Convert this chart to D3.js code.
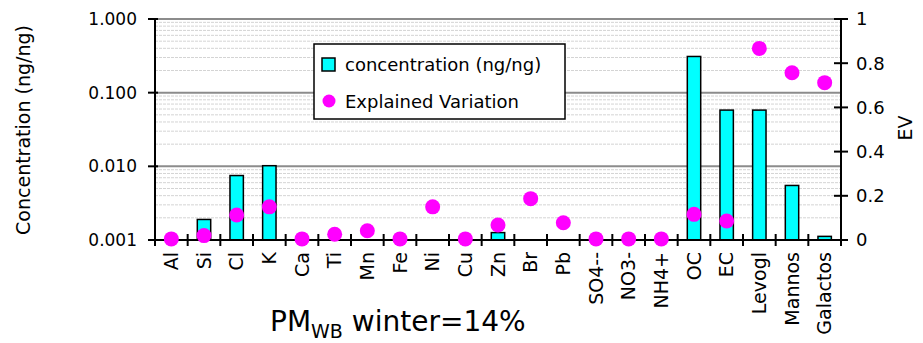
<!DOCTYPE html>
<html>
<head>
<meta charset="utf-8">
<script src="https://cdn.jsdelivr.net/npm/d3@7"></script>
<style>
  body { margin: 0; background: #fff; }
  text { font-family: "Comic Sans MS", "DejaVu Sans", sans-serif; fill: #000; }
</style>
</head>
<body>
<script>
// species along the x axis
const species = ["Al", "Si", "Cl", "K", "Ca", "Ti", "Mn", "Fe", "Ni", "Cu", "Zn",
    "Br", "Pb", "SO4--", "NO3-", "NH4+", "OC", "EC", "Levogl", "Mannos", "Galactos"];
// concentration (ng/ng), null = below axis floor
const concentration = [null, 0.0019, 0.0075, 0.0102, null, null, null, null, null, null, 0.00126,
    null, null, null, null, null, 0.31, 0.058, 0.058, 0.0055, 0.00112];
// explained variation
const ev = [0.005, 0.02, 0.113, 0.15, 0.005, 0.026, 0.042, 0.005, 0.15, 0.005, 0.068,
    0.187, 0.078, 0.005, 0.005, 0.005, 0.116, 0.086, 0.867, 0.757, 0.712];
const leftTicks = [0.001, 0.01, 0.1, 1];
const rightTicks = [0, 0.2, 0.4, 0.6, 0.8, 1];

const width = 923, height = 343;
const m = { left: 155, right: 841, top: 19, bottom: 240 };

const svg = d3.select("body").append("svg")
    .attr("width", width)
    .attr("height", height);

const x = d3.scaleBand().domain(species).range([m.left, m.right]);
const yL = d3.scaleLog().domain([0.001, 1]).range([m.bottom, m.top]);
const yR = d3.scaleLinear().domain([0, 1]).range([m.bottom, m.top]);

// minor gridlines
const minor = [];
[0.001, 0.01, 0.1].forEach(d => { for (let k = 2; k <= 9; k++) minor.push(d * k); });
svg.append("g").selectAll("line")
    .data(minor)
    .enter().append("line")
    .attr("x1", m.left).attr("x2", m.right)
    .attr("y1", d => yL(d)).attr("y2", d => yL(d))
    .style("stroke", "#d4d4d4")
    .style("stroke-width", 1)
    .style("stroke-dasharray", "3,1");

// major gridlines
svg.append("g").selectAll("line")
    .data([0.01, 0.1, 1])
    .enter().append("line")
    .attr("x1", m.left).attr("x2", m.right)
    .attr("y1", d => yL(d)).attr("y2", d => yL(d))
    .style("stroke", "#8c8c8c")
    .style("stroke-width", 2);

// bars
const bw = x.bandwidth() * 0.41;
svg.append("g").selectAll("rect")
    .data(species.map((s, i) => ({ s, v: concentration[i] })).filter(d => d.v != null))
    .enter().append("rect")
    .attr("x", d => x(d.s) + x.bandwidth() / 2 - bw / 2)
    .attr("width", bw)
    .attr("y", d => yL(d.v))
    .attr("height", d => m.bottom - yL(d.v))
    .style("fill", "#00ffff")
    .style("stroke", "#000")
    .style("stroke-width", 1.5);

// axes lines
const ax = svg.append("g").style("stroke", "#000").style("stroke-width", 2);
ax.append("line").attr("x1", m.left).attr("x2", m.left).attr("y1", m.top).attr("y2", m.bottom);
ax.append("line").attr("x1", m.right).attr("x2", m.right).attr("y1", m.top).attr("y2", m.bottom);
ax.append("line").attr("x1", m.left).attr("x2", m.right).attr("y1", m.bottom).attr("y2", m.bottom);

// left ticks
ax.selectAll(".lt").data(leftTicks).enter().append("line")
    .attr("x1", m.left - 7).attr("x2", m.left + 3)
    .attr("y1", d => yL(d)).attr("y2", d => yL(d));
svg.selectAll(".ltl").data(leftTicks).enter().append("text")
    .attr("x", 137).attr("y", d => yL(d)).attr("dy", "0.35em")
    .attr("text-anchor", "end")
    .style("font-size", "17px")
    .text(d => d3.format(".3f")(d));

// right ticks
ax.selectAll(".rt").data(rightTicks).enter().append("line")
    .attr("x1", m.right - 7).attr("x2", m.right + 7)
    .attr("y1", d => yR(d)).attr("y2", d => yR(d));
svg.selectAll(".rtl").data(rightTicks).enter().append("text")
    .attr("x", 856).attr("y", d => yR(d)).attr("dy", "0.35em")
    .style("font-family", "'DejaVu Sans', Verdana, sans-serif")
    .style("font-size", "18px")
    .text(d => d);

// bottom ticks (between categories)
const bticks = species.map(s => x(s)).concat([m.right]);
ax.selectAll(".bt").data(bticks).enter().append("line")
    .attr("x1", d => d).attr("x2", d => d)
    .attr("y1", m.bottom - 6).attr("y2", m.bottom + 6);

// category labels
svg.append("g").selectAll("text")
    .data(species)
    .enter().append("text")
    .attr("transform", d => `translate(${x(d) + x.bandwidth() / 2},252) rotate(-90)`)
    .attr("dy", "0.35em")
    .attr("text-anchor", "end")
    .style("font-size", "19px")
    .text(d => d);

// EV dots
svg.append("g").selectAll("circle")
    .data(species.map((s, i) => ({ s, v: ev[i] })))
    .enter().append("circle")
    .attr("cx", d => x(d.s) + x.bandwidth() / 2)
    .attr("cy", d => yR(d.v))
    .attr("r", 7.5)
    .style("fill", "#ff00ff");

// axis titles
svg.append("text")
    .attr("transform", "translate(30,130) rotate(-90)")
    .attr("text-anchor", "middle")
    .style("font-size", "19px")
    .text("Concentration (ng/ng)");
svg.append("text")
    .attr("transform", "translate(912,128) rotate(-90)")
    .attr("text-anchor", "middle")
    .style("font-family", "'DejaVu Sans', Verdana, sans-serif")
    .style("font-size", "19px")
    .text("EV");

// legend
const lg = svg.append("g");
lg.append("rect")
    .attr("x", 314).attr("y", 44).attr("width", 251).attr("height", 75)
    .style("fill", "#fff").style("stroke", "#000").style("stroke-width", 1.5);
lg.append("rect")
    .attr("x", 322).attr("y", 58).attr("width", 13).attr("height", 13)
    .style("fill", "#00ffff").style("stroke", "#000").style("stroke-width", 1.5);
lg.append("circle")
    .attr("cx", 329).attr("cy", 101).attr("r", 6.5)
    .style("fill", "#ff00ff");
lg.append("text").attr("x", 345).attr("y", 65).attr("dy", "0.35em")
    .style("font-size", "18px").text("concentration (ng/ng)");
lg.append("text").attr("x", 345).attr("y", 102).attr("dy", "0.35em")
    .style("font-size", "18px").text("Explained Variation");

// title
const t = svg.append("text")
    .attr("x", 270).attr("y", 331)
    .style("font-size", "28px");
t.append("tspan").text("PM");
t.append("tspan").attr("dy", 7).style("font-size", "19px").text("WB");
t.append("tspan").attr("dy", -7).text(" winter=14%");
</script>
</body>
</html>
